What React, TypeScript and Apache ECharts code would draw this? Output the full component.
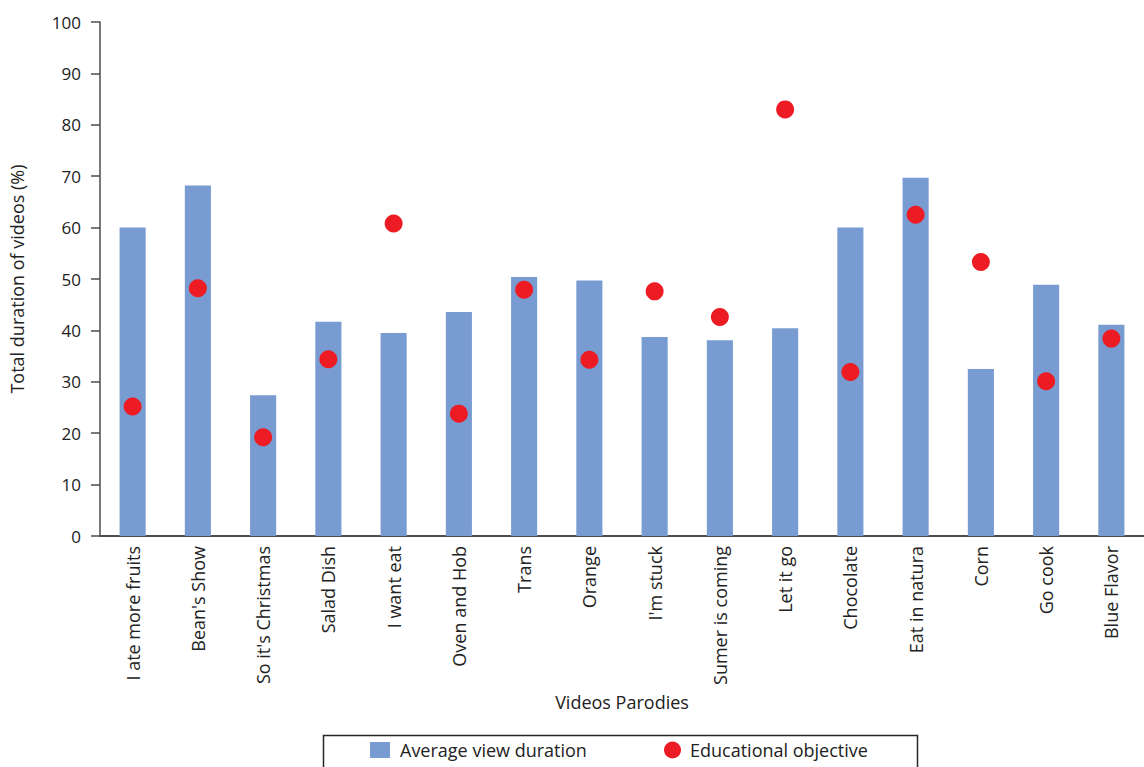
import React, { useEffect, useRef } from "react";
import * as echarts from "echarts";

const categories = [
  "I ate more fruits",
  "Bean's Show",
  "So it's Christmas",
  "Salad Dish",
  "I want eat",
  "Oven and Hob",
  "Trans",
  "Orange",
  "I'm stuck",
  "Sumer is coming",
  "Let it go",
  "Chocolate",
  "Eat in natura",
  "Corn",
  "Go cook",
  "Blue Flavor",
];

const averageViewDuration = [60, 68.2, 27.4, 41.7, 39.5, 43.6, 50.4, 49.7, 38.7, 38.1, 40.4, 60, 69.7, 32.5, 48.9, 41.1];
const educationalObjective = [25.2, 48.2, 19.2, 34.4, 60.8, 23.8, 47.9, 34.3, 47.6, 42.6, 83, 31.9, 62.5, 53.3, 30.1, 38.4];

const yTicks = { min: 0, max: 100, interval: 10 };

const FONT = "'Open Sans', 'Noto Sans', sans-serif";
const TXT = "#222222";

export default function App() {
  const ref = useRef<HTMLDivElement>(null);
  useEffect(() => {
    if (!ref.current) return;
    const chart = echarts.init(ref.current, undefined, { renderer: "svg" });
    chart.setOption({
      animation: false,
      backgroundColor: "#ffffff",
      textStyle: { fontFamily: FONT },
      grid: { left: 100, top: 22, width: 1044, height: 514, containLabel: false },
      xAxis: {
        type: "category",
        data: categories,
        name: "Videos Parodies",
        nameLocation: "middle",
        nameGap: 151,
        nameTextStyle: { fontSize: 18, color: TXT, fontFamily: FONT },
        axisLine: { lineStyle: { color: "#4d4d4d", width: 2 } },
        axisTick: { show: false },
        axisLabel: { rotate: 90, fontSize: 18, color: TXT, margin: 10, fontFamily: FONT, interval: 0 },
      },
      yAxis: {
        type: "value",
        min: yTicks.min,
        max: yTicks.max,
        interval: yTicks.interval,
        name: "Total duration of videos (%)",
        nameLocation: "middle",
        nameGap: 74,
        nameTextStyle: { fontSize: 18, color: TXT, fontFamily: FONT },
        axisLine: { show: true, lineStyle: { color: "#4d4d4d", width: 1.5 } },
        axisTick: { show: true, length: 9, lineStyle: { color: "#4d4d4d", width: 1.5 } },
        splitLine: { show: false },
        axisLabel: { fontSize: 17, color: TXT, margin: 19, fontFamily: FONT },
      },
      legend: [
        {
          data: [{ name: "Average view duration", icon: "rect" }],
          left: 370,
          top: 741,
          padding: 0,
          itemWidth: 20,
          itemHeight: 16,
          itemGap: 0,
          textStyle: { fontSize: 18, color: TXT, fontFamily: FONT, padding: [0, 0, 0, 5] },
        },
        {
          data: [{ name: "Educational objective", icon: "circle" }],
          left: 664,
          top: 741,
          padding: 0,
          itemWidth: 17,
          itemHeight: 17,
          itemGap: 0,
          textStyle: { fontSize: 18, color: TXT, fontFamily: FONT, padding: [0, 0, 0, 4] },
        },
      ],
      graphic: [
        {
          type: "rect",
          left: 321,
          top: 733,
          shape: { width: 594, height: 60 },
          style: { fill: "none", stroke: "#262626", lineWidth: 1.5 },
          silent: true,
        },
      ],
      series: [
        {
          name: "Average view duration",
          type: "bar",
          data: averageViewDuration,
          barWidth: "40%",
          itemStyle: { color: "#789bd2" },
        },
        {
          name: "Educational objective",
          type: "scatter",
          data: educationalObjective,
          symbol: "circle",
          symbolSize: 18,
          itemStyle: { color: "#ed1c24", opacity: 1 },
          z: 3,
        },
      ],
    });
    return () => chart.dispose();
  }, []);
  return (
    <div
      ref={ref}
      style={{ position: "absolute", left: 0, top: 0, width: 1144, height: 767 }}
    />
  );
}
